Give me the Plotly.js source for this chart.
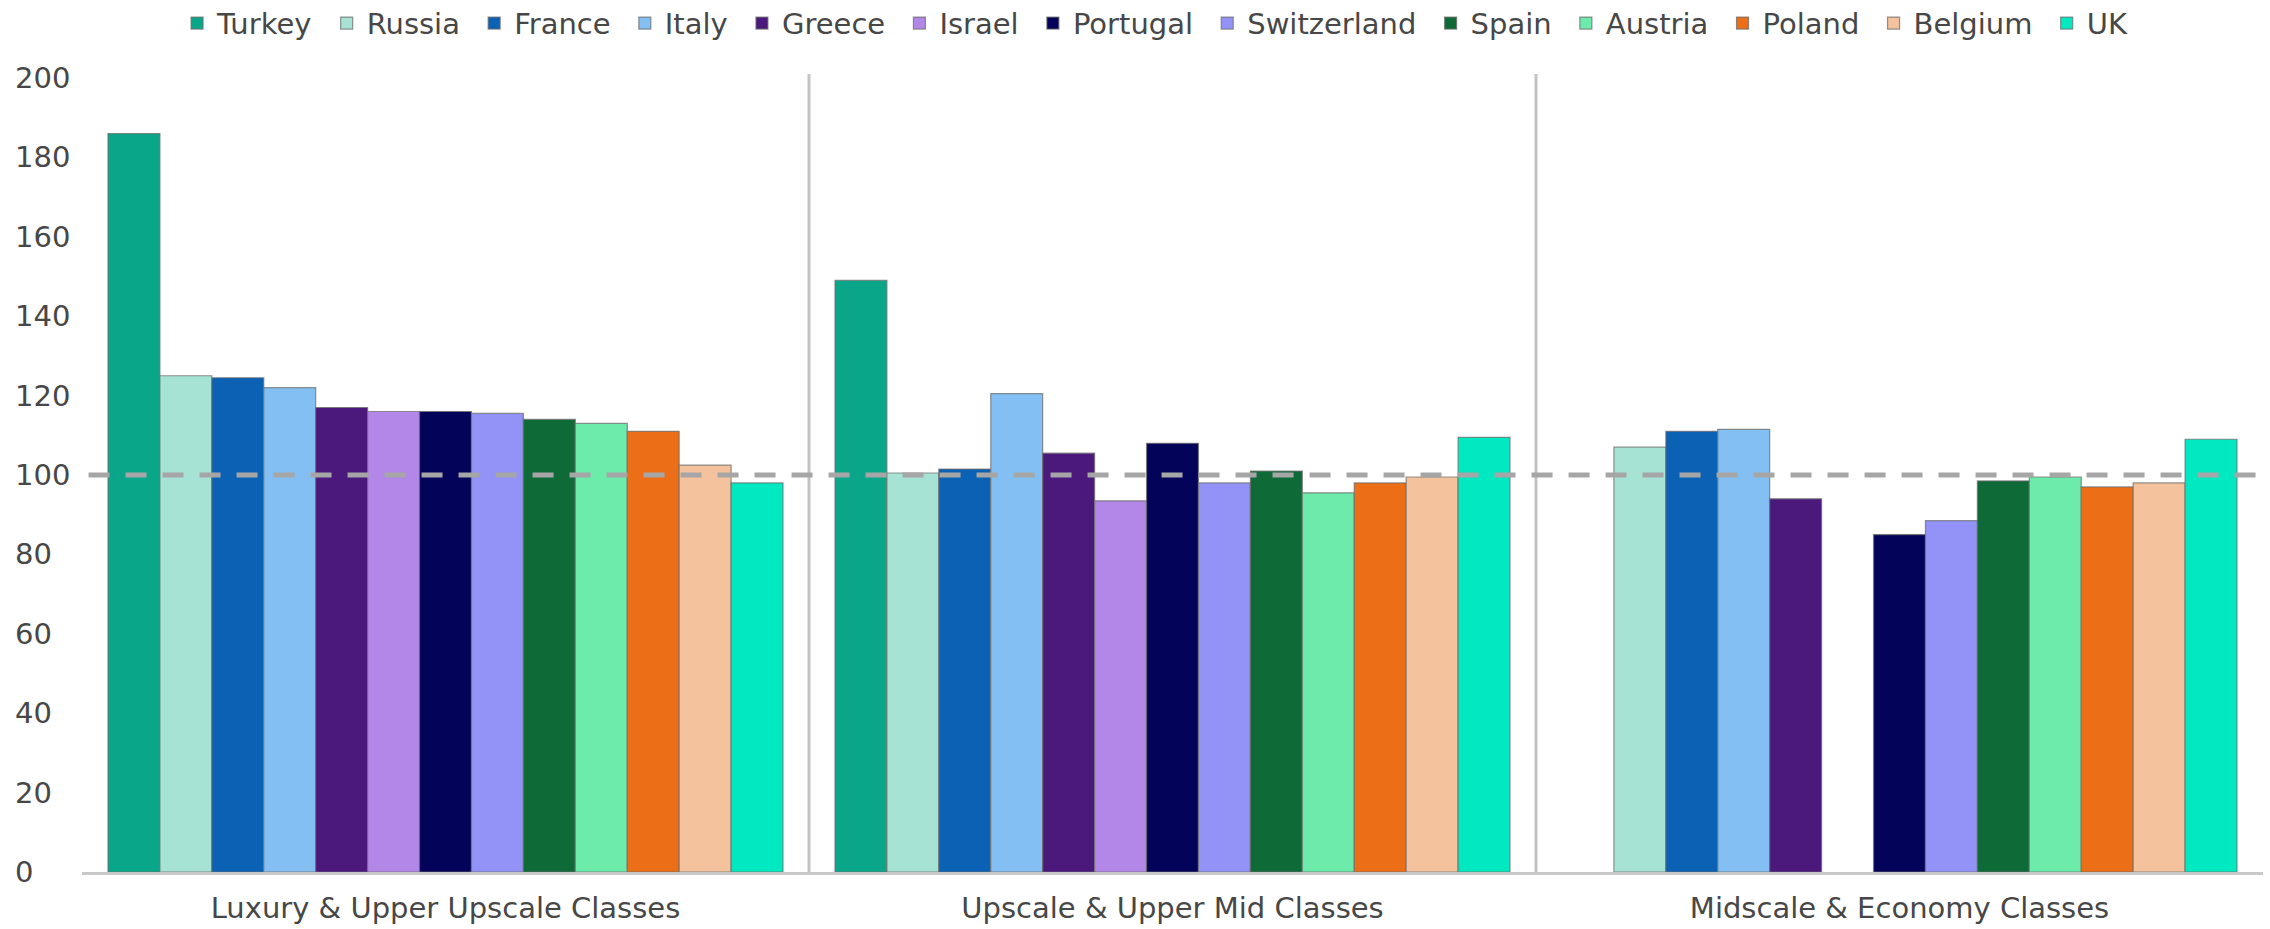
<!DOCTYPE html>
<html>
<head>
<meta charset="utf-8">
<script src="https://cdn.plot.ly/plotly-3.0.1.min.js"></script>
<style>
  html, body { margin: 0; padding: 0; background: #ffffff; }
  #chart { width: 2270px; height: 929px; }
</style>
</head>
<body>
<div id="chart"></div>
<script>
// Hotel price index by market segment (100 = average)
const categories = ['Luxury & Upper Upscale Classes', 'Upscale & Upper Mid Classes', 'Midscale & Economy Classes'];
const countries = ['Turkey', 'Russia', 'France', 'Italy', 'Greece', 'Israel', 'Portugal', 'Switzerland', 'Spain', 'Austria', 'Poland', 'Belgium', 'UK'];
const countryColors = ['#0aa68a', '#a6e3d5', '#0b62b4', '#83bff2', '#4b187c', '#b287e8', '#03035a', '#9393f7', '#0e6b38', '#6cebaa', '#ec6f17', '#f4c39d', '#00e9c1'];

// one value per country, in the order of `countries`
const luxuryValues   = [186, 125, 124.5, 122, 117, 116, 116, 115.5, 114, 113, 111, 102.5, 98];
const upscaleValues  = [149, 100.5, 101.5, 120.5, 105.5, 93.5, 108, 98, 101, 95.5, 98, 99.5, 109.5];
const midscaleValues = [null, 107, 111, 111.5, 94, null, 85, 88.5, 98.5, 99.5, 97, 98, 109];

const yTickValues = [0, 20, 40, 60, 80, 100, 120, 140, 160, 180, 200];
const referenceLevel = 100;

const FONT = 'DejaVu Sans, Verdana, sans-serif';
const TEXT_COLOR = '#474747';
const NBSP = '\u00a0';

const traces = countries.map((name, i) => ({
  type: 'bar',
  name: i < countries.length - 1 ? name + NBSP : name,  // a little extra room between legend entries
  x: categories,
  y: [luxuryValues[i], upscaleValues[i], midscaleValues[i]],
  marker: {
    color: countryColors[i],
    line: { color: 'rgba(110,110,110,0.75)', width: 1.2 }
  },
  hoverinfo: 'x+y+name'
}));

// left-aligned value labels along the y axis
const yLabels = yTickValues.map(v => ({
  xref: 'paper', yref: 'y',
  x: -0.0316, y: v,
  xanchor: 'left', yanchor: 'middle',
  text: String(v),
  showarrow: false,
  font: { family: FONT, size: 29, color: TEXT_COLOR }
}));

const layout = {
  width: 2270,
  height: 929,
  margin: { l: 82, r: 7, t: 78, b: 57, pad: 0, autoexpand: false },
  paper_bgcolor: '#ffffff',
  plot_bgcolor: '#ffffff',
  barmode: 'group',
  bargap: 0.0715,
  bargroupgap: 0,
  font: { family: FONT, size: 29, color: TEXT_COLOR },
  showlegend: true,
  legend: {
    orientation: 'h',
    xref: 'paper', x: 0.492, xanchor: 'center',
    yref: 'container', y: 0.975, yanchor: 'middle',
    font: { family: FONT, size: 29, color: TEXT_COLOR },
    bgcolor: 'rgba(0,0,0,0)',
    traceorder: 'normal'
  },
  xaxis: {
    type: 'category',
    showgrid: false,
    zeroline: false,
    showline: true,
    linecolor: '#c9c9c9',
    linewidth: 3,
    ticks: '',
    tickfont: { family: FONT, size: 29, color: TEXT_COLOR },
    ticklabelstandoff: 8
  },
  yaxis: {
    range: [0, 200],
    showgrid: false,
    zeroline: false,
    showline: false,
    showticklabels: false,
    ticks: '',
    fixedrange: true
  },
  shapes: [
    // separators between segments
    { type: 'line', xref: 'x', yref: 'paper', x0: 0.5, x1: 0.5, y0: 0, y1: 1.005,
      line: { color: '#c3c3c3', width: 3 } },
    { type: 'line', xref: 'x', yref: 'paper', x0: 1.5, x1: 1.5, y0: 0, y1: 1.005,
      line: { color: '#c3c3c3', width: 3 } },
    // reference level
    { type: 'line', xref: 'paper', yref: 'y', x0: 0.003, x1: 1, y0: referenceLevel, y1: referenceLevel,
      line: { color: '#a6a6a6', width: 5, dash: '21px,16px' }, layer: 'above' }
  ],
  annotations: yLabels
};

Plotly.newPlot('chart', traces, layout, { displayModeBar: false, staticPlot: true });
</script>
</body>
</html>
